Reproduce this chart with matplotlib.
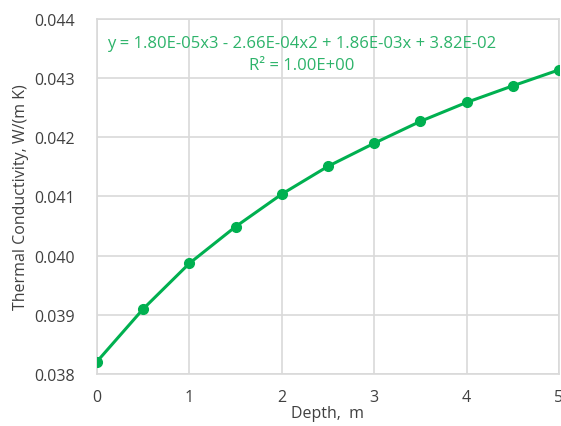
import matplotlib.pyplot as plt

# depth (m) and thermal conductivity
depth = [0, 0.5, 1, 1.5, 2, 2.5, 3, 3.5, 4, 4.5, 5]
conductivity = [0.03821, 0.03910, 0.03987, 0.04049, 0.04104, 0.04151,
                0.04190, 0.04227, 0.04259, 0.04287, 0.04314]

equation = "y = 1.80E-05x3 - 2.66E-04x2 + 1.86E-03x + 3.82E-02"
r_squared = "R² = 1.00E+00"

green = '#00B050'
text_grey = '#404040'
grid_grey = '#D9D9D9'

plt.rcParams['font.family'] = ['Open Sans', 'DejaVu Sans']

fig = plt.figure(figsize=(5.61, 4.27), dpi=100)
ax = fig.add_axes([0.1729, 0.1218, 0.8235, 0.8314])

ax.plot(depth, conductivity, color=green, linewidth=2.2, marker='o', markersize=7, zorder=3)

ax.set_xlim(0, 5)
ax.set_ylim(0.038, 0.044)
ax.set_xticks(range(6))
ax.set_yticks([0.038, 0.039, 0.040, 0.041, 0.042, 0.043, 0.044])
ax.set_yticklabels(['0.038', '0.039', '0.040', '0.041', '0.042', '0.043', '0.044'])

ax.grid(True, color=grid_grey, linewidth=1.2)
ax.set_axisbelow(True)
for side in ax.spines.values():
    side.set_color(grid_grey)
    side.set_linewidth(1.2)
ax.tick_params(length=0, labelsize=11.5, labelcolor=text_grey)
ax.tick_params(axis='x', pad=11)
ax.tick_params(axis='y', pad=16)

ax.set_xlabel('Depth,  m', fontsize=11.5, color=text_grey, labelpad=0)
ax.set_ylabel('Thermal Conductivity, W/(m K)', fontsize=11.5, color=text_grey, labelpad=4)

fig.text(0.538, 0.898, equation, ha='center', va='center',
         fontsize=12, color='#2DB36A')
fig.text(0.538, 0.846, r_squared, ha='center', va='center',
         fontsize=12, color='#2DB36A')

plt.savefig('out.png', dpi=100)
